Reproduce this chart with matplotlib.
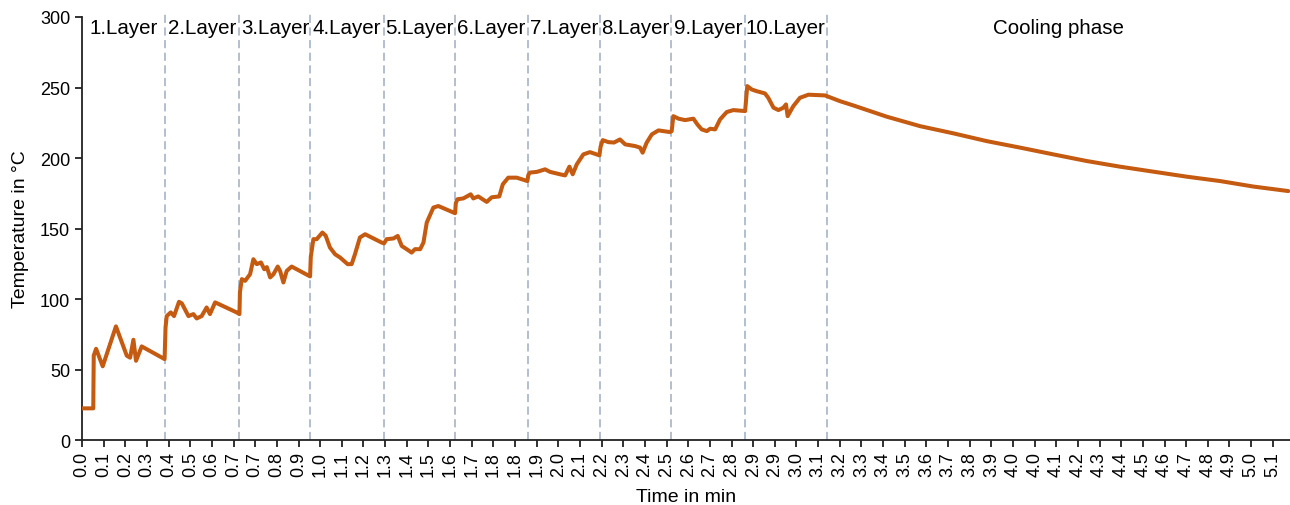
import matplotlib
matplotlib.use("Agg")
import matplotlib.pyplot as plt

plt.rcParams['font.family'] = ['Liberation Sans', 'DejaVu Sans']

# temperature curve (time in min, temperature in degC)
time_min = [0.013, 0.060, 0.062, 0.072, 0.100, 0.156, 0.202, 0.216, 0.230, 0.241, 0.265, 0.362,
            0.366, 0.371, 0.388, 0.402, 0.423, 0.435, 0.463, 0.484, 0.498, 0.519, 0.540, 0.554, 0.576, 0.667, 0.679,
            0.681, 0.689, 0.703, 0.724, 0.738, 0.752, 0.770, 0.784, 0.795, 0.809, 0.823, 0.841, 0.851, 0.865, 0.879, 0.900, 0.978,
            0.981, 0.992, 1.006, 1.030, 1.044, 1.062, 1.084, 1.105, 1.137, 1.154, 1.168, 1.189, 1.211, 1.281, 1.291,
            1.302, 1.331, 1.349, 1.366, 1.387, 1.408, 1.422, 1.444, 1.458, 1.472, 1.500, 1.521, 1.585, 1.592,
            1.595, 1.602, 1.627, 1.658, 1.669, 1.690, 1.726, 1.747, 1.779, 1.794, 1.817, 1.853, 1.898,
            1.902, 1.909, 1.938, 1.973, 1.994, 2.036, 2.058, 2.076, 2.090, 2.107, 2.135, 2.163, 2.203,
            2.208, 2.217, 2.241, 2.265, 2.290, 2.312, 2.354, 2.375, 2.386, 2.403, 2.425, 2.453, 2.502,
            2.509, 2.516, 2.538, 2.566, 2.601, 2.618, 2.636, 2.658, 2.672, 2.693, 2.714, 2.742, 2.770, 2.820,
            2.829, 2.848, 2.869, 2.904, 2.918, 2.940, 2.961, 2.982, 2.993, 3.000, 3.024, 3.052, 3.088, 3.158,
            3.222, 3.278, 3.420, 3.561, 3.702, 3.843, 3.984, 4.125, 4.266, 4.407, 4.548, 4.690, 4.831, 4.972, 5.120]
temp_c = [22.6, 22.6, 60.0, 64.8, 52.4, 80.7, 59.9, 58.5, 71.2, 56.3, 66.5, 57.5,
          80.0, 88.0, 90.6, 88.0, 98.1, 97.0, 88.0, 89.4, 86.3, 88.0, 94.1, 89.4, 97.7, 90.6, 89.4,
          105.0, 114.2, 113.0, 117.7, 128.3, 124.8, 126.0, 121.2, 122.7, 115.4, 117.7, 123.1, 120.0, 111.8, 120.0, 123.1, 116.1,
          130.0, 142.5, 142.5, 147.2, 145.0, 136.6, 131.8, 129.5, 124.8, 124.8, 131.8, 143.7, 146.0, 140.1, 139.5,
          142.5, 143.0, 144.8, 137.7, 135.4, 133.0, 135.4, 135.4, 140.1, 154.3, 164.9, 166.0, 161.4, 160.9,
          168.0, 170.8, 171.4, 174.3, 171.4, 172.8, 168.9, 172.2, 172.8, 181.4, 186.1, 186.1, 183.7,
          188.0, 189.7, 190.2, 192.0, 190.2, 188.5, 187.7, 193.9, 188.5, 195.5, 202.6, 204.2, 201.9,
          208.0, 212.7, 211.3, 211.0, 213.2, 209.7, 208.5, 207.4, 203.8, 210.9, 216.8, 219.6, 218.4,
          219.1, 229.7, 227.9, 226.9, 227.9, 223.8, 220.3, 219.1, 220.8, 220.3, 227.4, 232.6, 234.0, 233.3,
          251.0, 248.6, 247.4, 245.8, 242.7, 235.7, 234.0, 235.7, 238.0, 229.7, 236.8, 242.7, 244.9, 244.4,
          240.3, 237.3, 229.3, 222.6, 217.5, 212.0, 207.4, 202.6, 197.9, 193.9, 190.4, 186.8, 183.7, 179.8, 176.6]

# end of each layer / start of cooling (min)
phase_ends = [0.362, 0.679, 0.979, 1.291, 1.590, 1.901, 2.207, 2.506, 2.818, 3.166]
phase_names = ['1.Layer', '2.Layer', '3.Layer', '4.Layer', '5.Layer', '6.Layer', '7.Layer',
               '8.Layer', '9.Layer', '10.Layer', 'Cooling phase']

x_labels = ['0.0', '0.1', '0.2', '0.3', '0.4', '0.5', '0.6', '0.7', '0.7', '0.8', '0.9', '1.0',
            '1.1', '1.2', '1.3', '1.4', '1.5', '1.6', '1.7', '1.8', '1.8', '1.9', '2.0', '2.1',
            '2.2', '2.3', '2.4', '2.5', '2.6', '2.7', '2.8', '2.9', '2.9', '3.0', '3.1', '3.2',
            '3.3', '3.4', '3.5', '3.6', '3.7', '3.8', '3.9', '4.0', '4.0', '4.1', '4.2', '4.3',
            '4.4', '4.5', '4.6', '4.7', '4.8', '4.9', '5.0', '5.1']

tick_start = 0.0125
tick_step = 1.1 / 12
x_end = 5.127

fig = plt.figure(figsize=(12.9, 5.06), dpi=100)
ax = fig.add_axes([0.0636, 0.128, 0.9364, 0.8365])

ax.vlines(phase_ends, 0, 304, colors='#ADB9CA', linestyles=(0, (4.5, 2.5)),
          linewidth=1.3, clip_on=False, zorder=1)
ax.plot(time_min, temp_c, color='#C55A11', linewidth=2.9, solid_joinstyle='round',
        solid_capstyle='round', zorder=3)

bounds = [tick_start] + phase_ends + [x_end]
for name, a, b in zip(phase_names, bounds[:-1], bounds[1:]):
    ax.text((a + b) / 2, 292.5, name, ha='center', va='center', fontsize=14.8)

ax.set_xlim(tick_start, x_end)
ax.set_ylim(0, 300)
ax.set_yticks(range(0, 301, 50))
ax.set_xticks([tick_start + i * tick_step for i in range(len(x_labels))])
ax.set_xticklabels(x_labels, rotation=90)

for s in ['top', 'right']:
    ax.spines[s].set_visible(False)
for s in ['left', 'bottom']:
    ax.spines[s].set_linewidth(1.3)
    ax.spines[s].set_color('#222222')
ax.tick_params(axis='both', labelsize=13, length=5, width=1.3, color='#222222', direction='out')
ax.tick_params(axis='x', pad=3)

ax.set_xlabel('Time in min', fontsize=14, labelpad=8)
ax.set_ylabel('Temperature in °C', fontsize=14, labelpad=8)

fig.savefig('out.png', dpi=100)
